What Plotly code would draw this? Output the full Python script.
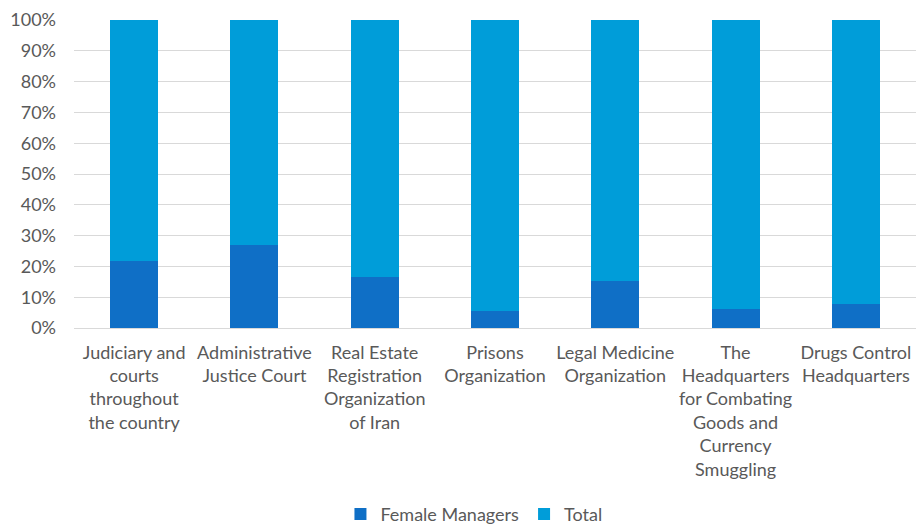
import plotly.graph_objects as go

# Share of female managers vs. the rest, per organisation (percent)
categories = [
    "Judiciary and<br>courts<br>throughout<br>the country",
    "Administrative<br>Justice Court",
    "Real Estate<br>Registration<br>Organization<br>of Iran",
    "Prisons<br>Organization",
    "Legal Medicine<br>Organization",
    "The<br>Headquarters<br>for Combating<br>Goods and<br>Currency<br>Smuggling",
    "Drugs Control<br>Headquarters",
]
female_managers = [21.8, 27.1, 16.7, 5.5, 15.3, 6.3, 7.7]
total = [78.2, 72.9, 83.3, 94.5, 84.7, 93.7, 92.3]
y_ticks = [0, 10, 20, 30, 40, 50, 60, 70, 80, 90, 100]

font = dict(family="Lato, Open Sans, sans-serif", size=18, color="#595959")

fig = go.Figure()
fig.add_trace(go.Bar(x=categories, y=female_managers, name="Female Managers",
                     marker=dict(color="#0F6FC6", line=dict(width=0))))
fig.add_trace(go.Bar(x=categories, y=total, name="Total",
                     marker=dict(color="#009DD9", line=dict(width=0))))

fig.update_layout(
    barmode="stack",
    bargap=0.6,
    width=916, height=526,
    margin=dict(l=74, r=0, t=20, b=198, autoexpand=False),
    plot_bgcolor="white", paper_bgcolor="white",
    font=font,
    showlegend=True,
    legend=dict(orientation="h", x=0.475, xanchor="center", y=-0.605, yanchor="middle",
                font=font, traceorder="normal", itemwidth=30),
    hovermode=False,
)
fig.update_xaxes(showgrid=False, tickangle=0, ticklabelstandoff=8, automargin=False,
                 showline=True, linecolor="#D9D9D9", linewidth=1)
fig.update_yaxes(range=[0, 100], tickvals=y_ticks, automargin=False,
                 ticktext=[f"{v}%" for v in y_ticks],
                 showgrid=True, gridcolor="#D9D9D9", gridwidth=1,
                 zeroline=False, ticklabelstandoff=17)

# drop the default 8px page margin so the figure fills the window exactly
fig.write_html("out.html", config={"displayModeBar": False, "staticPlot": True},
               post_script="document.body.style.margin='0';document.body.style.overflow='hidden';")
